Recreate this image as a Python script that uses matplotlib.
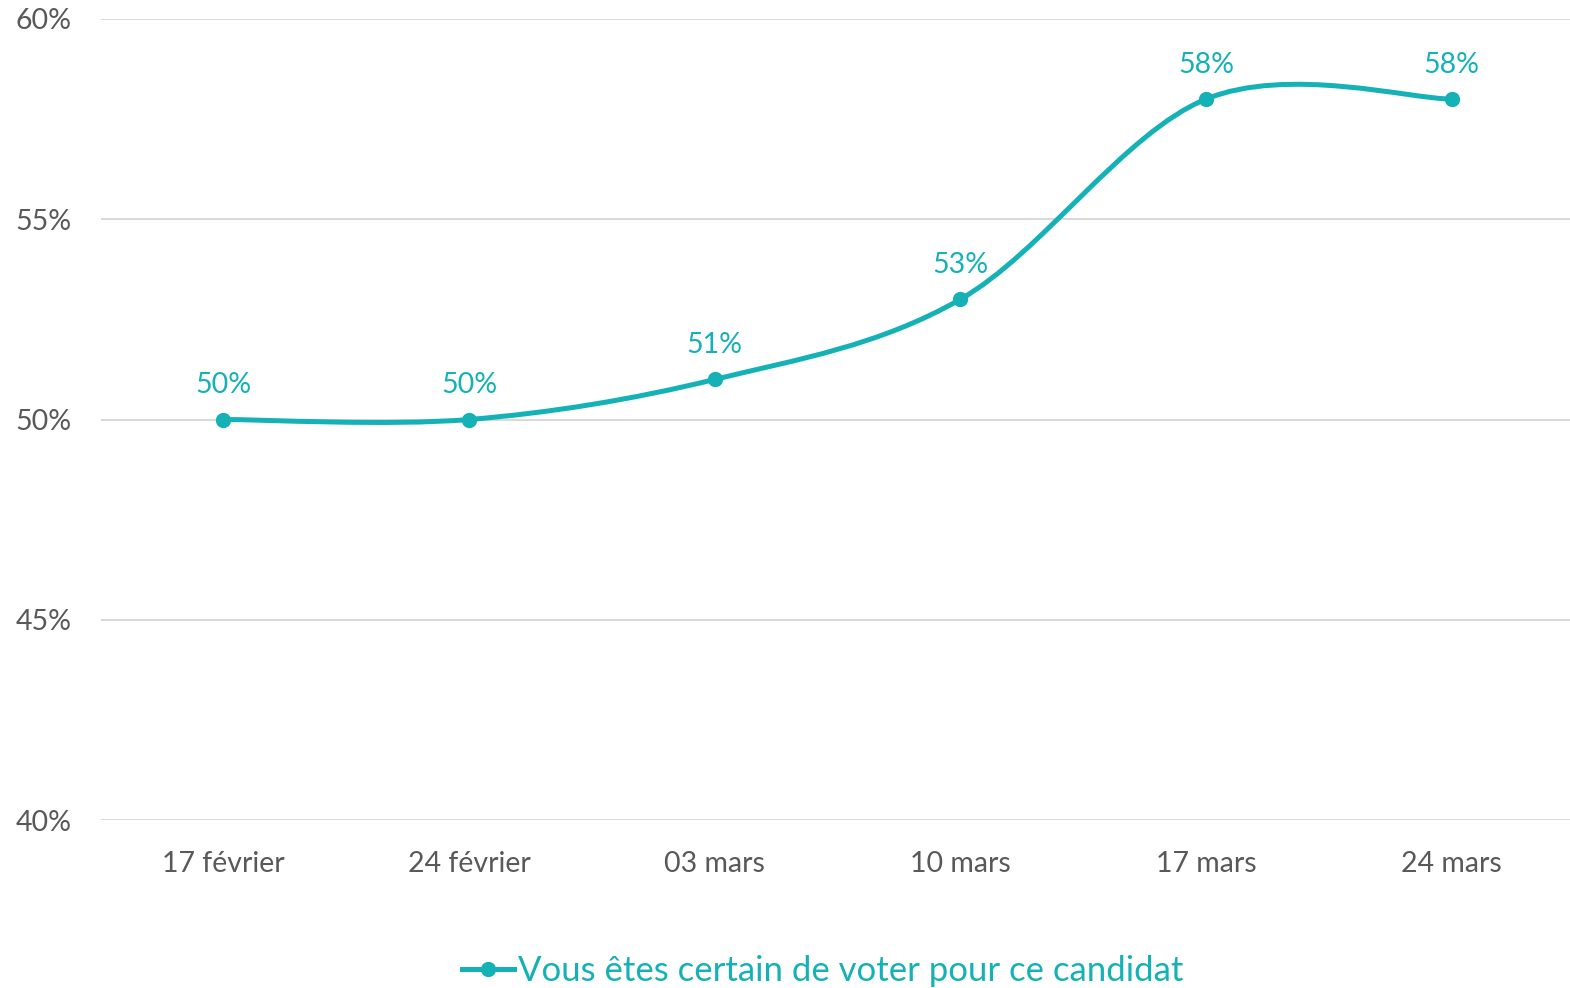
import matplotlib
matplotlib.use("Agg")
import matplotlib.pyplot as plt
from matplotlib.path import Path
from matplotlib.patches import PathPatch
from matplotlib.lines import Line2D
import numpy as np

categories = ["17 février", "24 février", "03 mars", "10 mars", "17 mars", "24 mars"]
values = [50, 50, 51, 53, 58, 58]
series_name = "Vous êtes certain de voter pour ce candidat"
yticks = [40, 45, 50, 55, 60]

teal = "#14B1B6"
gray = "#595959"
grid = "#D9D9D9"

plt.rcParams['font.family'] = ['Lato', 'DejaVu Sans']

fig = plt.figure(figsize=(15.7, 9.88), dpi=100)
ax = fig.add_axes([100.5/1570, 1-820/988, 1474/1570, (820-19)/988])

x = np.arange(len(values), dtype=float)
y = np.array(values, dtype=float)

# Smoothed line (Catmull-Rom style Bezier as in spreadsheet smoothing)
verts = [(x[0], y[0])]
codes = [Path.MOVETO]
n = len(x)
for i in range(n - 1):
    p0 = np.array([x[max(i-1, 0)], y[max(i-1, 0)]])
    p1 = np.array([x[i], y[i]])
    p2 = np.array([x[i+1], y[i+1]])
    p3 = np.array([x[min(i+2, n-1)], y[min(i+2, n-1)]])
    c1 = p1 + (p2 - p0) / 6.0
    c2 = p2 - (p3 - p1) / 6.0
    verts += [tuple(c1), tuple(c2), tuple(p2)]
    codes += [Path.CURVE4, Path.CURVE4, Path.CURVE4]
patch = PathPatch(Path(verts, codes), facecolor='none', edgecolor=teal,
                  lw=3.6, capstyle='round', joinstyle='round', zorder=3)
ax.add_patch(patch)
ax.plot(x, y, 'o', color=teal, markersize=10, zorder=4)

for xi, yi in zip(x, y):
    ax.annotate(f"{int(yi)}%", (xi, yi), xytext=(0, 24.5), textcoords='offset points',
                ha='center', va='center', color=teal, fontsize=20.5)

ax.set_xlim(-0.5, n - 0.5)
ax.set_ylim(40, 60)
ax.set_yticks(yticks)
ax.set_yticklabels([f"{t}%" for t in yticks])
ax.set_xticks(x)
ax.set_xticklabels(categories)
ax.tick_params(axis='both', length=0, labelsize=20.5, labelcolor=gray)
ax.tick_params(axis='y', pad=21)
ax.tick_params(axis='x', pad=22)
for s in ax.spines.values():
    s.set_visible(False)
ax.grid(axis='y', color=grid, lw=1.5)
ax.set_axisbelow(True)

handle = Line2D([0], [0], color=teal, lw=3.6, marker='o', markersize=10)
fig.legend([handle], [series_name], loc='center', bbox_to_anchor=(0.524, 0.017),
           frameon=False, fontsize=25, labelcolor=teal, handlelength=1.5,
           handletextpad=0.1)

fig.savefig("out.png", dpi=100)
